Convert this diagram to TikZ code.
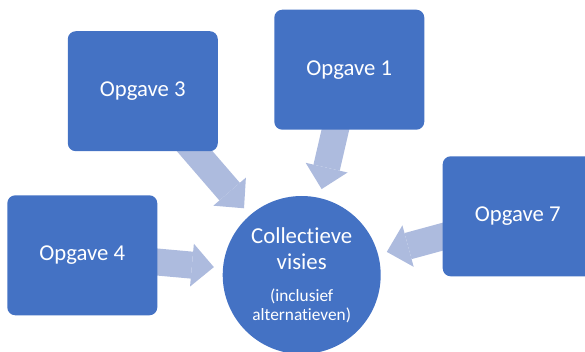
\documentclass[tikz,border=0pt]{standalone}
\usepackage{fontspec}
\setmainfont{Carlito}[Ligatures={NoCommon}]
\usetikzlibrary{arrows.meta,calc,backgrounds}
\definecolor{boxblue}{HTML}{4472C4}
\definecolor{arrowblue}{HTML}{ADBBDE}
\begin{document}
\begin{tikzpicture}[x=1pt,y=-1pt,
  taskbox/.style={fill=boxblue, rounded corners=8pt, minimum width=150pt, minimum height=120pt,
    text=white, font=\fontsize{22.7}{27}\selectfont, inner sep=0pt},
  hub/.style={circle, fill=boxblue, minimum size=158pt, inner sep=0pt},
  hubbig/.style={text=white, align=center, inner sep=0pt, font=\fontsize{22.8}{25.3}\selectfont},
  hubsmall/.style={text=white, align=center, inner sep=0pt, font=\fontsize{17.3}{19.3}\selectfont},
  blockarrow/.style={draw=arrowblue, line width=27pt, shorten >=9pt,
    -{Triangle[width=43pt,length=22pt,line width=0pt]}}]
\clip (0,0) rectangle (585,352);
\node[hub] (c) at (301.7,275) {};
\node[hubbig] (ct1) at ($(c)+(0,-26.3)$) {Collectieve\\visies};
\node[hubsmall] (ct2) at ($(c)+(0,30.7)$) {(inclusief\\alternatieven)};
\node[taskbox] (b3) at (142.8,91.2) {Opgave 3};
\node[taskbox] (b1) at (349.3,69.7) {Opgave 1};
\node[taskbox] (b4) at (82.3,255.3) {Opgave 4};
\node[taskbox] (b7) at (517.7,216.3) {Opgave 7};
\begin{scope}[on background layer]
  \draw[blockarrow] (b3.center) -- (c);
  \draw[blockarrow] (b1.center) -- (c);
  \draw[blockarrow] (b4.center) -- (c);
  \draw[blockarrow] (b7.center) -- (c);
\end{scope}
\end{tikzpicture}
\end{document}
